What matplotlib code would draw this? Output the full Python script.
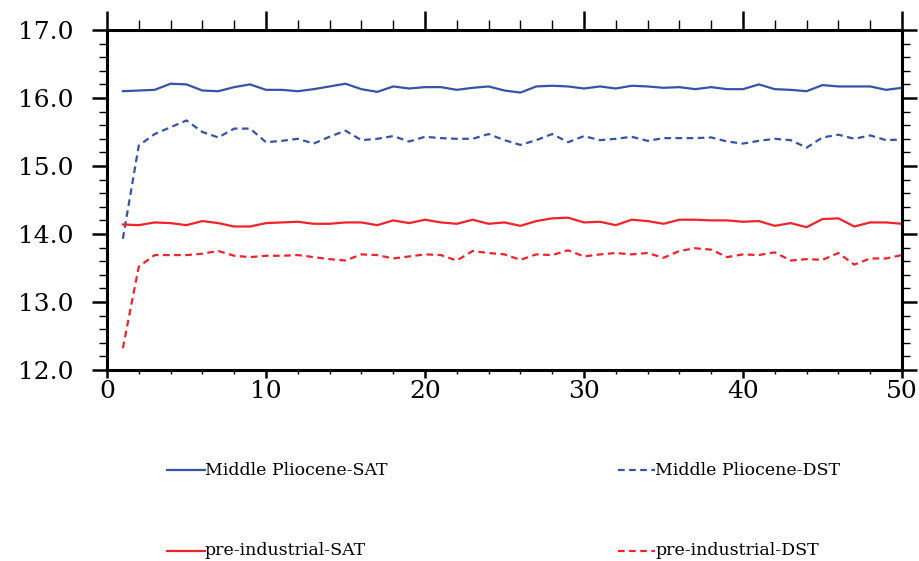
import matplotlib
matplotlib.use("Agg")
import matplotlib.pyplot as plt
from matplotlib.lines import Line2D
from matplotlib.ticker import MultipleLocator, FormatStrFormatter
import numpy as np

years = list(range(1, 51))

mp_sat = [16.10, 16.11, 16.12, 16.21, 16.20, 16.11, 16.10, 16.16, 16.20, 16.12,
          16.12, 16.10, 16.13, 16.17, 16.21, 16.13, 16.09, 16.17, 16.14, 16.16,
          16.16, 16.12, 16.15, 16.17, 16.11, 16.08, 16.17, 16.18, 16.17, 16.14,
          16.17, 16.14, 16.18, 16.17, 16.15, 16.16, 16.13, 16.16, 16.13, 16.13,
          16.20, 16.13, 16.12, 16.10, 16.19, 16.17, 16.17, 16.17, 16.12, 16.15]

mp_dst = [13.93, 15.30, 15.47, 15.57, 15.67, 15.50, 15.42, 15.55, 15.55, 15.35,
          15.37, 15.40, 15.33, 15.43, 15.52, 15.38, 15.40, 15.44, 15.36, 15.43,
          15.41, 15.40, 15.40, 15.47, 15.38, 15.31, 15.38, 15.47, 15.35, 15.44,
          15.38, 15.40, 15.43, 15.37, 15.41, 15.41, 15.41, 15.42, 15.36, 15.33,
          15.37, 15.40, 15.38, 15.27, 15.42, 15.46, 15.40, 15.45, 15.38, 15.39]

pi_sat = [14.14, 14.13, 14.17, 14.16, 14.13, 14.19, 14.16, 14.11, 14.11, 14.16,
          14.17, 14.18, 14.15, 14.15, 14.17, 14.17, 14.13, 14.20, 14.16, 14.21,
          14.17, 14.15, 14.21, 14.15, 14.17, 14.12, 14.19, 14.23, 14.24, 14.17,
          14.18, 14.13, 14.21, 14.19, 14.15, 14.21, 14.21, 14.20, 14.20, 14.18,
          14.19, 14.12, 14.16, 14.10, 14.22, 14.23, 14.11, 14.17, 14.17, 14.15]

pi_dst = [12.32, 13.52, 13.69, 13.69, 13.69, 13.71, 13.75, 13.68, 13.66, 13.68,
          13.68, 13.69, 13.66, 13.63, 13.61, 13.70, 13.69, 13.64, 13.67, 13.70,
          13.69, 13.61, 13.75, 13.72, 13.70, 13.62, 13.70, 13.69, 13.76, 13.67,
          13.70, 13.72, 13.70, 13.72, 13.65, 13.75, 13.79, 13.77, 13.66, 13.70,
          13.69, 13.73, 13.61, 13.63, 13.62, 13.72, 13.55, 13.64, 13.64, 13.69]

labels = ["Middle Pliocene-SAT", "Middle Pliocene-DST",
          "pre-industrial-SAT", "pre-industrial-DST"]

BLUE = "#3553a8"
RED = "#f0222a"
FONT = "DejaVu Serif"

fig = plt.figure(figsize=(9.19, 5.61), dpi=100)
ax = fig.add_axes([0.1164, 0.3405, 0.9815 - 0.1164, 0.9465 - 0.3405])

dash = (0, (3, 2))
LW = 1.6
ax.plot(years, mp_sat, color=BLUE, lw=LW, ls="-")
ax.plot(years, mp_dst, color=BLUE, lw=LW, ls=dash)
ax.plot(years, pi_sat, color=RED, lw=LW, ls="-")
ax.plot(years, pi_dst, color=RED, lw=LW, ls=dash)

ax.set_xlim(0, 50)
ax.set_ylim(12, 17)
ax.xaxis.set_major_locator(MultipleLocator(10))
ax.xaxis.set_minor_locator(MultipleLocator(2))
ax.yaxis.set_major_locator(MultipleLocator(1))
ax.yaxis.set_minor_locator(MultipleLocator(0.2))
ax.yaxis.set_major_formatter(FormatStrFormatter("%.1f"))

for s in ax.spines.values():
    s.set_linewidth(2.2)
ax.tick_params(which="both", direction="out", top=True, right=True,
               bottom=True, left=True, labeltop=False, labelright=False)
ax.tick_params(axis="x", which="major", length=6, width=1.8, labelsize=18, pad=1)
ax.tick_params(axis="x", which="minor", length=3, width=1.0)
ax.tick_params(axis="y", which="major", length=11, width=1.8, labelsize=18, pad=13)
ax.tick_params(axis="y", which="minor", length=6, width=1.0)
for t in ax.xaxis.get_major_ticks():
    t.tick2line.set_markersize(14)
for t in ax.xaxis.get_minor_ticks():
    t.tick2line.set_markersize(7)
for lab in ax.get_xticklabels() + ax.get_yticklabels():
    lab.set_fontfamily(FONT)

# legend drawn below the plot
rows = [0.162, 0.018]
cols = [(0.182, 0.223), (0.672, 0.713)]
styles = [(BLUE, "-"), (BLUE, dash), (RED, "-"), (RED, dash)]
for i, (lab, (c, ls)) in enumerate(zip(labels, styles)):
    r = rows[i // 2]
    x0, x1 = cols[i % 2]
    fig.add_artist(Line2D([x0, x1], [r, r], color=c, lw=LW, ls=ls,
                          transform=fig.transFigure))
    fig.text(x1, r, lab, fontsize=12.5, fontfamily=FONT, va="center", ha="left")

fig.savefig("out.png", dpi=100)
